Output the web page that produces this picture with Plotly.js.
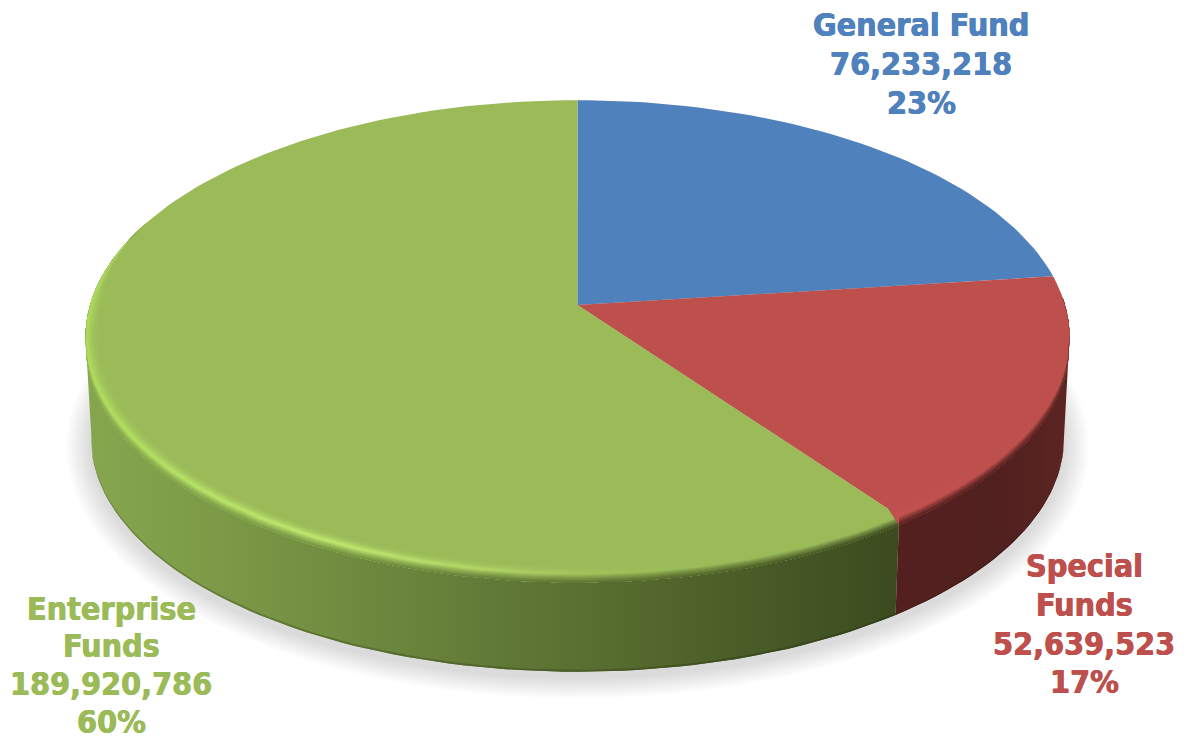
<!DOCTYPE html>
<html>
<head>
<meta charset="utf-8">
<script src="https://cdn.plot.ly/plotly-3.0.1.min.js"></script>
<style>html,body{margin:0;padding:0;background:#fff}#chart{width:1184px;height:740px}</style>
</head>
<body>
<div id="chart"></div>
<script>
// Fund totals and their stated shares
const fundNames = [["General Fund"], ["Special", "Funds"], ["Enterprise", "Funds"]];
const fundAmounts = [76233218, 52639523, 189920786];
const fundShares = [23, 17, 60];
const fundColors = ["#4f81bd", "#bd4f4c", "#9bbb59"];
const labelCenters = [[921, 25], [1084, 566], [111, 608.5]];
const labelLineSteps = [38.8, 38.8, 37.8];

// Perspective disc: top face and bottom rim, in axis units
const cx = 577.5, k = 0.135;
const disc = {cyTop: 305, cyBottom: 407, rTop: 487.5, rBottom: 482, sTop: 232.5, sBottom: 229};
const lerp = (a, b, t) => a + (b - a) * t;

function project(deg, r, z) {
  const a = deg * Math.PI / 180, u = Math.sin(a) * r, v = Math.cos(a) * r, w = 1 + k * v;
  return [cx + lerp(disc.rTop, disc.rBottom, z) * u / w,
          lerp(disc.cyTop, disc.cyBottom, z) - lerp(disc.sTop, disc.sBottom, z) * v / w];
}
function arc(from, to, rOf, zOf) {
  const n = Math.max(2, Math.ceil(Math.abs(to - from) / 1.5));
  const out = [];
  for (let i = 0; i <= n; i++) {
    const d = lerp(from, to, i / n);
    out.push(project(d, rOf(d), zOf(d)));
  }
  return out;
}
function poly(points, extra) {
  const closed = points.concat([points[0]]);
  return Object.assign({
    x: closed.map(p => p[0]), y: closed.map(p => p[1]),
    type: "scatter", mode: "lines", fill: "toself", line: {width: 0},
    hoverinfo: "skip", showlegend: false
  }, extra);
}
function hexToRgb(h) { return [1, 3, 5].map(i => parseInt(h.substr(i, 2), 16)); }
function mixHex(a, b, t) {
  const A = hexToRgb(a), B = hexToRgb(b);
  return "#" + A.map((c, i) => Math.round(lerp(c, B[i], t)).toString(16).padStart(2, "0")).join("");
}
// Horizontal gradient fill from [x, colour] stops
function hGrad(stops) {
  const x0 = stops[0][0], x1 = stops[stops.length - 1][0];
  return {
    fillgradient: {
      type: "horizontal", start: x0, stop: x1,
      colorscale: stops.map(s => [(s[0] - x0) / (x1 - x0), s[1]])
    }
  };
}

// Slice angles, clockwise from twelve o'clock
const total = fundShares.reduce((a, b) => a + b, 0);
let running = 0;
const angles = fundShares.map(s => { const a = running; running += s / total * 360; return [a, running]; });
const tangentR = Math.acos(-k) * 180 / Math.PI, tangentL = 360 - tangentR;

const traces = [];

// Soft ground shadow under the disc
const shadowLayers = 18;
for (let i = 0; i < shadowLayers; i++) {
  const g = (shadowLayers - i) / shadowLayers;
  const pts = arc(0, 360, () => 1, () => 1).map(p => [
    cx + (p[0] - cx) * (1 + 0.052 * g),
    disc.cyBottom + (p[1] - disc.cyBottom) * (1 + 0.08 * g) + 6
  ]);
  traces.push(poly(pts, {fillcolor: "rgba(0,0,0,0.0075)"}));
}

// Side wall shading
const greenWall = [[88, "#86a64e"], [200, "#7e9c48"], [350, "#6f8b3f"], [500, "#617937"], [600, "#586d30"], [700, "#4f6229"], [800, "#455625"], [905, "#3a4a1e"]];
const redWall = [[895, "#54201f"], [1000, "#50201f"], [1070, "#5c2522"]];
const greenLip = [[88, "#aedb5e"], [200, "#b6e266"], [350, "#bde56e"], [500, "#aed163"], [600, "#a0c15a"], [700, "#9bbb59"], [905, "#9bbb59"]];
const redLip = [[895, "#c4524f"], [1000, "#bd4f4c"], [1070, "#bd4f4c"]];

function wallBand(from, to, z0, z1, stops) {
  const top = arc(from, to, () => 1, () => z0);
  const bot = arc(to, from, () => 1, () => z1);
  return poly(top.concat(bot), hGrad(stops));
}
const darken = (stops, t) => stops.map(s => [s[0], mixHex(s[1], "#101404", t)]);

traces.push(wallBand(angles[1][1], tangentL, 0, 1, greenWall));
traces.push(wallBand(tangentR, angles[1][1], 0, 1, redWall));
traces.push(wallBand(angles[1][1], tangentL, 0.98, 1, darken(greenWall, 0.22)));
traces.push(wallBand(tangentR, angles[1][1], 0.98, 1, darken(redWall, 0.15)));

// Top face
fundShares.forEach((_, i) => {
  const [a, b] = angles[i];
  traces.push(poly([[cx, disc.cyTop]].concat(arc(a, b, () => 1, () => 0)), {fillcolor: fundColors[i]}));
});

// Rounded rim: rings painted inner to outer, each reaching down onto the wall.
// Past the silhouette tangents only the part on the face remains.
function rimRings(from, to, taper, face, lipStops, wallStops) {
  const sampleAt = (stops, x) => {
    for (let i = 1; i < stops.length; i++) {
      if (x <= stops[i][0]) {
        const t = (x - stops[i - 1][0]) / (stops[i][0] - stops[i - 1][0]);
        return mixHex(stops[i - 1][1], stops[i][1], Math.max(0, t));
      }
    }
    return stops[stops.length - 1][1];
  };
  const xs = wallStops.map(s => s[0]).concat(lipStops.map(s => s[0]))
    .filter((v, i, a) => a.indexOf(v) === i).sort((p, q) => p - q);
  const onWall = d => d >= tangentR && d <= tangentL;
  const ringCount = 16;
  for (let i = 0; i < ringCount; i++) {
    const t = i / (ringCount - 1);          // 0 = inner edge on the face, 1 = down on the wall
    const rOut = t < 0.5 ? 1 - 0.03 * (1 - t / 0.5) : 1;
    const zOut = t < 0.5 ? 0 : 0.085 * (t - 0.5) / 0.5;
    const stops = xs.map(x => {
      const lip = sampleAt(lipStops, x), wall = sampleAt(wallStops, x);
      const up = Math.min(1, t / 0.42);
      return [x, t < 0.5 ? mixHex(face, lip, up * up) : mixHex(lip, wall, Math.pow((t - 0.5) / 0.5, 0.8))];
    });
    const inner = arc(from, to, d => 1 - (1 - rOut) * taper(d), d => onWall(d) ? zOut : 0);
    const outer = arc(to, from, () => 1, d => onWall(d) ? 0.09 : 0);
    traces.push(poly(inner.concat(outer), hGrad(stops)));
  }
}
const smooth = (a, b, x) => { const t = Math.min(1, Math.max(0, (x - a) / (b - a))); return t * t * (3 - 2 * t); };
rimRings(angles[2][0], 292, d => 1 - smooth(266, 292, d), fundColors[2], greenLip, greenWall);
rimRings(88, angles[1][1], d => smooth(88, 112, d), fundColors[1], redLip, redWall);

// Labels: one annotation per line so the leading can be set exactly
const annotations = [];
fundNames.forEach((nameLines, i) => {
  const lines = nameLines.concat([fundAmounts[i].toLocaleString("en-US"), fundShares[i] + "%"]);
  const c = fundColors[i];
  lines.forEach((text, j) => annotations.push({
    x: labelCenters[i][0], y: labelCenters[i][1] + j * labelLineSteps[i],
    xref: "x", yref: "y", text: "<b>" + text + "</b>", showarrow: false,
    xanchor: "center", yanchor: "middle",
    font: {
      family: "'DejaVu Sans Condensed','DejaVu Sans',sans-serif", size: 32, color: c,
      shadow: "0.4px 0 0 " + c + ", -0.4px 0 0 " + c
    }
  }));
});

Plotly.newPlot("chart", traces, {
  width: 1184, height: 740,
  margin: {l: 0, r: 0, t: 0, b: 0},
  paper_bgcolor: "#ffffff", plot_bgcolor: "#ffffff",
  showlegend: false,
  xaxis: {range: [0, 1184], visible: false, fixedrange: true},
  yaxis: {range: [740, 0], visible: false, fixedrange: true},
  annotations: annotations
}, {displayModeBar: false, staticPlot: true});
</script>
</body>
</html>
